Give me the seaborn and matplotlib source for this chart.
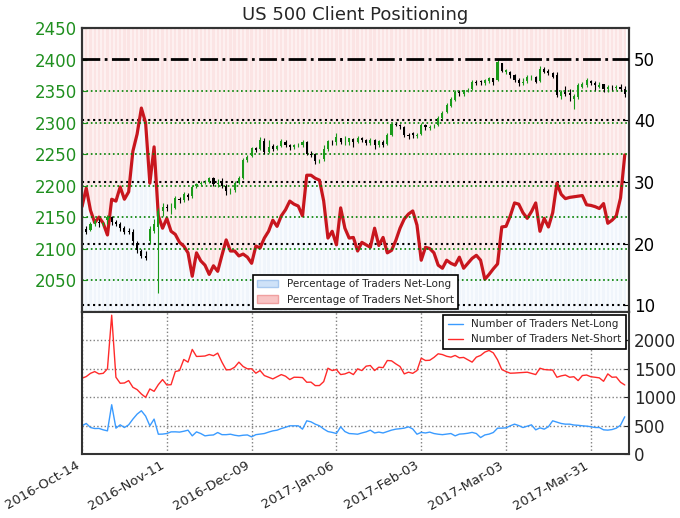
import matplotlib
matplotlib.use('Agg')
import matplotlib.pyplot as plt
import matplotlib.transforms as mtransforms
from matplotlib.patches import Patch
import seaborn as sns
import numpy as np
import pandas as pd


sns.set_style('white')
plt.rcParams['font.family'] = ['DejaVu Sans']
plt.rcParams['xtick.direction'] = 'in'
plt.rcParams['ytick.direction'] = 'in'

# trading days, one candle per day (plotted on an evenly spaced index)
dates = pd.bdate_range('2016-10-14', '2017-04-12')

opens = [2139, 2132, 2130, 2140, 2143, 2139, 2145, 2150, 2142, 2140,
         2133, 2128, 2126, 2110, 2097, 2088, 2112, 2128, 2135, 2160,
         2167, 2164, 2165, 2179, 2177, 2186, 2183, 2199, 2203, 2205,
         2206, 2212, 2202, 2206, 2200, 2191, 2193, 2205, 2213, 2241,
         2247, 2260, 2258, 2271, 2254, 2263, 2258, 2263, 2270, 2265,
         2261, 2264, 2264, 2269, 2250, 2250, 2239, 2242, 2258, 2270,
         2269, 2276, 2269, 2269, 2274, 2270, 2275, 2272, 2268, 2272,
         2264, 2270, 2266, 2281, 2298, 2297, 2293, 2280, 2283, 2279,
         2282, 2296, 2292, 2294, 2296, 2308, 2317, 2327, 2336, 2349,
         2345, 2351, 2354, 2365, 2366, 2363, 2366, 2370, 2368, 2395,
         2381, 2380, 2375, 2368, 2363, 2366, 2372, 2372, 2366, 2385,
         2382, 2378, 2375, 2343, 2348, 2347, 2337, 2341, 2357, 2360,
         2366, 2363, 2357, 2361, 2353, 2357, 2355, 2357, 2354]
highs = [2149, 2136, 2143, 2147, 2147, 2143, 2154, 2152, 2146, 2143,
         2137, 2133, 2131, 2113, 2100, 2096, 2136, 2147, 2165, 2172,
         2171, 2172, 2184, 2182, 2190, 2189, 2201, 2205, 2208, 2209,
         2214, 2214, 2210, 2212, 2203, 2196, 2208, 2215, 2244, 2249,
         2262, 2262, 2278, 2276, 2273, 2266, 2265, 2274, 2272, 2266,
         2266, 2267, 2273, 2271, 2255, 2252, 2243, 2264, 2273, 2273,
         2283, 2276, 2279, 2276, 2275, 2279, 2277, 2274, 2275, 2274,
         2273, 2272, 2284, 2299, 2301, 2298, 2294, 2283, 2285, 2283,
         2299, 2298, 2296, 2298, 2311, 2319, 2331, 2340, 2351, 2352,
         2352, 2355, 2367, 2368, 2368, 2369, 2372, 2371, 2401, 2395,
         2385, 2382, 2377, 2371, 2370, 2376, 2376, 2374, 2390, 2388,
         2385, 2381, 2381, 2351, 2358, 2353, 2346, 2363, 2364, 2371,
         2368, 2366, 2365, 2362, 2359, 2360, 2359, 2361, 2358]
lows = [2127, 2124, 2128, 2137, 2134, 2136, 2140, 2138, 2136, 2129,
        2123, 2123, 2106, 2094, 2085, 2082, 2108, 2125, 2030, 2152,
        2160, 2155, 2163, 2172, 2175, 2178, 2181, 2197, 2200, 2203,
        2204, 2199, 2198, 2197, 2186, 2187, 2190, 2203, 2211, 2238,
        2245, 2254, 2257, 2251, 2252, 2255, 2256, 2261, 2261, 2256,
        2258, 2261, 2262, 2248, 2245, 2234, 2236, 2240, 2255, 2265,
        2265, 2266, 2264, 2265, 2262, 2268, 2269, 2264, 2265, 2259,
        2262, 2262, 2265, 2279, 2294, 2290, 2278, 2274, 2276, 2275,
        2280, 2289, 2288, 2291, 2294, 2305, 2315, 2325, 2334, 2343,
        2342, 2348, 2351, 2360, 2360, 2360, 2363, 2360, 2366, 2380,
        2377, 2370, 2364, 2358, 2360, 2363, 2368, 2363, 2364, 2378,
        2375, 2370, 2340, 2338, 2343, 2335, 2322, 2338, 2355, 2357,
        2360, 2352, 2355, 2349, 2348, 2352, 2352, 2350, 2340]
closes = [2133, 2126, 2140, 2144, 2141, 2141, 2151, 2143, 2139, 2133,
          2126, 2126, 2112, 2098, 2089, 2085, 2132, 2140, 2160, 2167,
          2164, 2164, 2180, 2177, 2187, 2182, 2198, 2203, 2205, 2206,
          2213, 2202, 2205, 2199, 2191, 2192, 2205, 2212, 2241, 2246,
          2260, 2257, 2272, 2253, 2262, 2258, 2263, 2271, 2265, 2261,
          2264, 2264, 2269, 2250, 2249, 2239, 2240, 2258, 2271, 2269,
          2277, 2269, 2269, 2275, 2270, 2275, 2272, 2268, 2272, 2264,
          2271, 2265, 2280, 2298, 2297, 2295, 2281, 2279, 2280, 2281,
          2297, 2293, 2293, 2295, 2308, 2316, 2328, 2338, 2349, 2347,
          2351, 2352, 2365, 2363, 2364, 2367, 2370, 2364, 2396, 2382,
          2383, 2375, 2368, 2363, 2365, 2373, 2373, 2365, 2385, 2381,
          2378, 2373, 2344, 2348, 2346, 2344, 2342, 2359, 2361, 2368,
          2363, 2359, 2360, 2353, 2357, 2356, 2357, 2354, 2345]

# percentage of traders net-long
pct_long = [26.0, 29.0, 25.4, 23.4, 24.3, 23.3, 21.4, 27.2, 26.9, 29.2,
            27.2, 28.4, 35.0, 37.8, 42.0, 39.6, 29.8, 35.7, 24.5, 22.5,
            24.1, 22.0, 21.5, 20.2, 19.6, 18.5, 14.7, 18.5, 17.2, 16.5,
            15.0, 16.4, 15.5, 18.1, 20.6, 18.8, 18.8, 18.0, 18.3, 17.8,
            16.8, 19.6, 19.3, 20.9, 22.0, 23.8, 22.8, 24.5, 25.5, 26.9,
            26.4, 26.1, 24.5, 31.1, 31.1, 30.6, 30.3, 26.9, 20.9, 22.0,
            19.8, 25.8, 22.5, 20.9, 21.0, 18.8, 20.2, 19.8, 19.4, 22.5,
            19.7, 21.0, 18.5, 18.9, 20.5, 22.5, 24.0, 24.8, 25.3, 23.0,
            17.3, 19.4, 19.2, 18.5, 16.5, 16.0, 17.3, 16.8, 16.5, 17.8,
            16.0, 16.8, 17.6, 18.1, 17.3, 14.2, 15.0, 15.9, 16.7, 22.7,
            22.8, 24.5, 26.6, 26.4, 25.0, 24.1, 25.2, 26.6, 22.0, 24.1,
            22.7, 25.0, 29.8, 28.0, 27.3, 27.5, 27.6, 27.7, 27.8, 26.3,
            26.2, 26.0, 25.7, 26.5, 23.3, 23.8, 24.5, 27.4, 34.4]

net_long = [496, 537, 466, 448, 450, 425, 407, 867, 454, 513,
            466, 513, 614, 702, 761, 667, 496, 614, 348, 350,
            360, 389, 390, 385, 400, 419, 319, 389, 360, 319,
            330, 335, 378, 340, 340, 348, 330, 319, 330, 335,
            301, 340, 350, 360, 385, 407, 419, 448, 470, 496,
            496, 496, 437, 584, 566, 525, 496, 440, 395, 380,
            360, 478, 395, 360, 355, 348, 370, 389, 419, 370,
            385, 370, 395, 420, 437, 445, 455, 478, 440, 348,
            380, 370, 385, 360, 348, 340, 350, 360, 319, 350,
            355, 365, 380, 360, 289, 335, 350, 378, 454, 455,
            460, 496, 525, 500, 466, 490, 513, 425, 460, 437,
            480, 584, 560, 537, 525, 525, 510, 505, 496, 490,
            480, 466, 466, 425, 420, 430, 454, 507, 655]
net_short = [1333, 1363, 1420, 1451, 1410, 1420, 1499, 2443, 1351, 1245,
             1250, 1292, 1174, 1133, 1056, 997, 1145, 1103, 1221, 1310,
             1215, 1220, 1451, 1469, 1664, 1617, 1841, 1717, 1720, 1725,
             1752, 1730, 1776, 1617, 1481, 1485, 1528, 1617, 1540, 1499,
             1500, 1422, 1469, 1381, 1351, 1322, 1360, 1398, 1369, 1310,
             1351, 1350, 1345, 1263, 1265, 1204, 1205, 1274, 1510, 1469,
             1487, 1398, 1410, 1440, 1398, 1499, 1469, 1546, 1558, 1469,
             1528, 1520, 1646, 1640, 1587, 1540, 1410, 1440, 1420, 1469,
             1687, 1646, 1650, 1700, 1764, 1750, 1720, 1705, 1735, 1693,
             1700, 1658, 1617, 1705, 1735, 1794, 1823, 1780, 1658, 1487,
             1451, 1422, 1425, 1430, 1435, 1440, 1420, 1398, 1510, 1487,
             1481, 1478, 1351, 1375, 1390, 1351, 1360, 1292, 1381, 1390,
             1360, 1351, 1340, 1280, 1410, 1351, 1355, 1263, 1215]

df = pd.DataFrame({'date': dates, 'open': opens, 'high': highs, 'low': lows,
                   'close': closes, 'pct_long': pct_long,
                   'net_long': net_long, 'net_short': net_short})
df['pos'] = np.arange(len(df))

GREEN = '#1f8f1f'
PCT_LIM = (8.9, 55)

fig = plt.figure(figsize=(6.8, 5.18), dpi=100)
ax_pct = fig.add_axes([0.1206, 0.3977, 0.8044, 0.5483])
ax_price = ax_pct.twinx()
ax_cnt = fig.add_axes([0.1206, 0.1236, 0.8044, 0.2741], sharex=ax_pct)

# sentiment background: net-long below the line, net-short above it
lo = PCT_LIM[0]
ax_pct.fill_between(df['pos'], lo, df['pct_long'], color='#f8fbfe', step='mid', lw=0)
ax_pct.fill_between(df['pos'], df['pct_long'], 100, color='#fdf0f0', step='mid', lw=0)
ax_pct.bar(df['pos'], df['pct_long'] - lo, bottom=lo, width=0.55, color='#f0f5fb', lw=0)
ax_pct.bar(df['pos'], 100 - df['pct_long'], bottom=df['pct_long'], width=0.55, color='#fbe4e4', lw=0)
sns.lineplot(data=df, x='pos', y='pct_long', ax=ax_pct, color='#c8161e', lw=2.3, zorder=4)
ax_pct.set_ylim(*PCT_LIM)
ax_pct.set_yticks([10, 20, 30, 40, 50])
ax_pct.yaxis.tick_right()
ax_pct.grid(True, axis='y', color='black', ls=':', lw=1.5)
ax_pct.set_axisbelow(False)
ax_pct.tick_params(axis='y', labelsize=12, colors='black')
ax_pct.tick_params(axis='x', labelbottom=False)
ax_pct.set_xlabel('')
ax_pct.set_ylabel('')

# price candles
up = df['close'] >= df['open']
candle_colors = np.where(up, '#1a9a1a', 'black')
ax_price.vlines(df['pos'], df['low'], df['high'], colors=candle_colors, lw=0.8)
ax_price.bar(df['pos'], (df['close'] - df['open']).abs(),
             bottom=df[['open', 'close']].min(axis=1), width=0.5,
             color=candle_colors, lw=0)
ax_price.set_ylim(2000, 2450)
ax_price.set_yticks(range(2050, 2451, 50))
ax_price.yaxis.tick_left()
ax_price.tick_params(axis='y', labelsize=12, labelcolor=GREEN, colors=GREEN)
ax_price.grid(True, color='green', ls=':', lw=1.2)
ax_price.tick_params(axis='x', labelbottom=False)
ax_price.set_title('US 500 Client Positioning', fontsize=13)

# 50% reference line sits on top of the coinciding grid lines
ax_pct.yaxis.get_gridlines()[-1].set_visible(False)
ax_price.yaxis.get_gridlines()[7].set_visible(False)
trans = mtransforms.blended_transform_factory(ax_price.transAxes, ax_pct.transData)
ax_price.plot([0, 1], [50, 50], color='black', ls='-.', lw=2, zorder=3, transform=trans)

handles = [Patch(facecolor='#cfe2f8', edgecolor='#a9c9ef', label='Percentage of Traders Net-Long'),
           Patch(facecolor='#f8c4c4', edgecolor='#f0a0a0', label='Percentage of Traders Net-Short')]
leg = ax_price.legend(handles=handles, loc='lower center', fontsize=7.5, fancybox=False,
                      framealpha=1, edgecolor='black', borderaxespad=0.3)
leg.get_frame().set_linewidth(1.2)
leg.set_zorder(10)

# trader counts
sns.lineplot(data=df, x='pos', y='net_long', ax=ax_cnt, color='#3a9bff', lw=1,
             label='Number of Traders Net-Long')
sns.lineplot(data=df, x='pos', y='net_short', ax=ax_cnt, color='#ff2a2a', lw=1,
             label='Number of Traders Net-Short')
ax_cnt.set_ylim(0, 2500)
ax_cnt.set_yticks([0, 500, 1000, 1500, 2000])
ax_cnt.yaxis.tick_right()
ax_cnt.tick_params(axis='y', labelsize=12)
ax_cnt.grid(True, color='gray', ls=':', lw=1)
ax_cnt.set_xlabel('')
ax_cnt.set_ylabel('')
leg2 = ax_cnt.legend(loc='upper right', fontsize=7.5, fancybox=False, framealpha=1,
                     edgecolor='black', borderaxespad=0.3, handlelength=1.5)
leg2.get_frame().set_linewidth(1.2)

tick_pos = df['pos'][::20]
ax_cnt.set_xlim(0, 129)
ax_cnt.set_xticks(tick_pos)
ax_cnt.set_xticklabels(df['date'][::20].dt.strftime('%Y-%b-%d'), rotation=30,
                       ha='right', fontsize=9.5)

for ax in (ax_pct, ax_price, ax_cnt):
    for sp in ax.spines.values():
        sp.set_color('#333333')
        sp.set_linewidth(1.5)

fig.savefig('out.png', dpi=100)
